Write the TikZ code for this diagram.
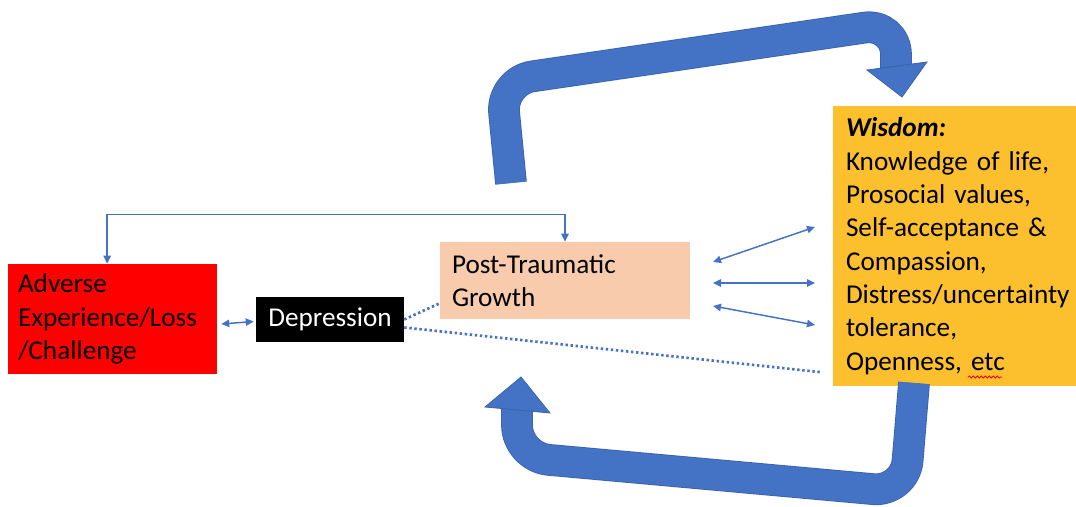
\documentclass[tikz,border=0pt]{standalone}
\usepackage{fontspec}
\setmainfont{Carlito}
\usetikzlibrary{arrows.meta,calc,decorations.pathmorphing}
\definecolor{obl}{HTML}{4472C4}
\definecolor{obledge}{HTML}{3A63AE}
\definecolor{ptgfill}{HTML}{F8CBAD}
\definecolor{gold}{RGB}{252,191,45}
\hyphenpenalty=10000\relax
\exhyphenpenalty=10000\relax
\begin{document}
\begin{tikzpicture}[x=0.75pt,y=-0.75pt,
  box/.style={rectangle, inner ysep=0pt, font=\fontsize{20.4}{25}\selectfont},
  conn/.style={obl, line width=1.1pt, {Triangle[length=6pt,width=5.5pt]}-{Triangle[length=6pt,width=5.5pt]}},
  dots/.style={obl, line width=2pt, dash pattern=on 1.8pt off 2pt},
  bandedge/.style={obledge, line width=23.8pt, rounded corners=24pt},
  band/.style={obl, line width=22.5pt, rounded corners=24pt},
  head/.style={fill=obl, draw=obledge, line width=0.6pt, line join=miter}]
\useasboundingbox (0,0) rectangle (1076,507);

\node[box, fill=red, minimum width=156.75pt, minimum height=82.5pt, text width=141.75pt, inner xsep=7.5pt, align=left] (adv) at (112.5,319) {Adverse\\Experience/Loss\\/Challenge};
\node[box, fill=black, text=white, minimum width=111pt, minimum height=33.75pt] (dep) at (330,319.5) {Depression};
\node[box, fill=ptgfill, minimum width=187.5pt, minimum height=57.75pt, text width=169.5pt, inner xsep=9pt, align=left] (ptg) at (565,280.5) {Post-Traumatic\\Growth};
\node[box, fill=gold, minimum width=182.25pt, minimum height=210pt, text width=162.75pt, inner xsep=9.75pt, align=left] (wis) at (954.5,246) {\textbf{\textit{Wisdom:}}\\Knowledge of life,\\Prosocial values,\\Self-acceptance \&\\Compassion,\\Distress/uncertainty\\tolerance,\\Openness, etc};
\draw[red, line width=0.6pt, decorate, decoration={snake, amplitude=0.8pt, segment length=3pt}] (968,377) -- (1002,377);

% connectors
\draw[conn] ([xshift=3pt,yshift=-3.75pt]adv.east) -- ([xshift=-1.5pt,yshift=-1.5pt]dep.west);
\draw[conn] ([xshift=-4pt]adv.north) -- ++(0,-49) -| (ptg.north);
\draw[dots] (dep.east) -- ([yshift=12pt]ptg.south west);
\draw[dots] ([yshift=-6pt]dep.east) -- ([xshift=-8.25pt,yshift=10.5pt]wis.south west);

\coordinate (p1) at (713,262); \coordinate (q1) at (815,227);
\coordinate (p2) at (713,283); \coordinate (q2) at (815,283);
\coordinate (p3) at (713,306); \coordinate (q3) at (815,325);
\draw[conn] (p1) -- (q1);
\draw[conn] (p2) -- (q2);
\draw[conn] (p3) -- (q3);

% big curved arrows
\draw[bandedge] (511,183) -- (501,81) -- (896,23) -- (896,70);
\draw[band] (511,183) -- (501,81) -- (896,23) -- (896,70);
\filldraw[head] (867,70) -- (927,62) -- (902,97) -- cycle;

\draw[bandedge] (914,383) -- (905,492) -- (517,457) -- (517,406);
\draw[band] (914,383) -- (905,492) -- (517,457) -- (517,406);
\filldraw[head] (485,407) -- (550,413) -- (521,377) -- cycle;
\end{tikzpicture}
\end{document}
